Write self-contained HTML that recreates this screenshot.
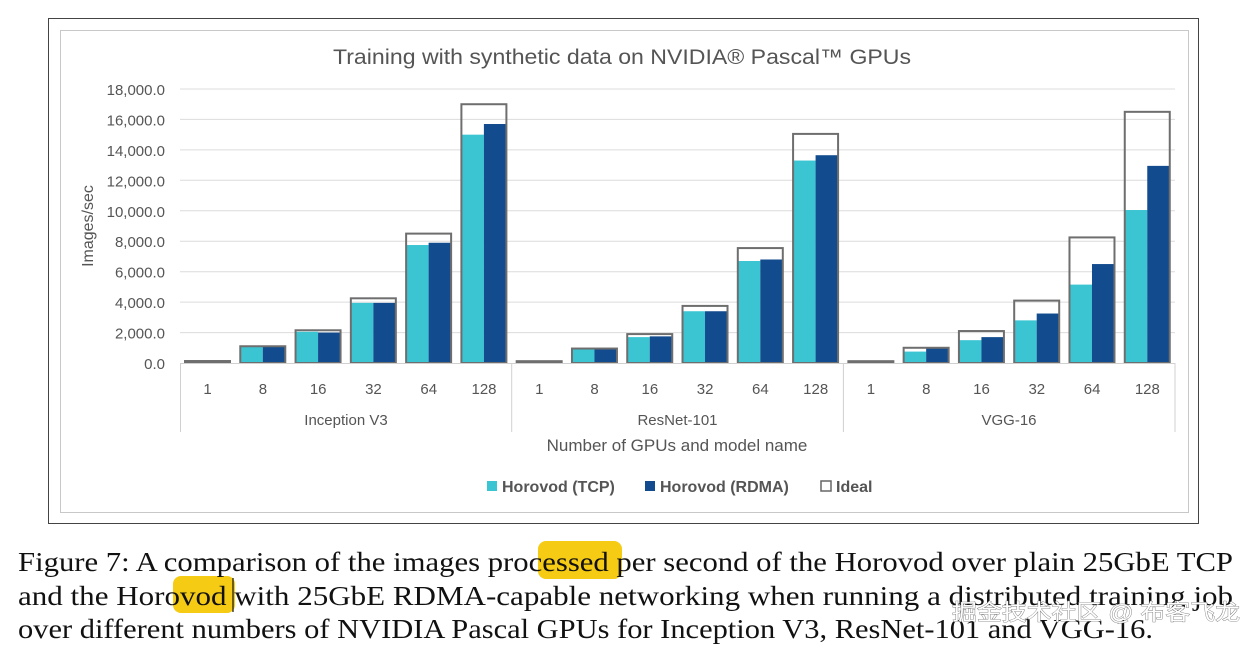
<!DOCTYPE html>
<html><head><meta charset="utf-8"><style>
html,body{margin:0;padding:0;background:#fff;width:1257px;height:648px;overflow:hidden}
svg{display:block}
</style></head><body>
<svg id="s" width="1257" height="648" xmlns="http://www.w3.org/2000/svg" font-family="Liberation Sans, sans-serif">
<rect x="48.5" y="18.5" width="1150" height="505" fill="#fff" stroke="#444" stroke-width="1"/>
<rect x="60.5" y="30.5" width="1128" height="482" fill="#fff" stroke="#c8c8c8" stroke-width="1"/>
<text x="622" y="64" font-size="21" fill="#555" text-anchor="middle" textLength="578" lengthAdjust="spacingAndGlyphs">Training with synthetic data on NVIDIA® Pascal™ GPUs</text>
<g stroke="#dcdcdc" stroke-width="1">
<line x1="180" x2="1175" y1="332.6" y2="332.6"/><line x1="180" x2="1175" y1="302.1" y2="302.1"/>
<line x1="180" x2="1175" y1="271.7" y2="271.7"/><line x1="180" x2="1175" y1="241.2" y2="241.2"/>
<line x1="180" x2="1175" y1="210.8" y2="210.8"/><line x1="180" x2="1175" y1="180.3" y2="180.3"/>
<line x1="180" x2="1175" y1="149.9" y2="149.9"/><line x1="180" x2="1175" y1="119.4" y2="119.4"/>
<line x1="180" x2="1175" y1="89" y2="89"/>
</g>
<g font-size="15" fill="#555" text-anchor="end">
<text x="165" y="369">0.0</text><text x="165" y="338.6">2,000.0</text><text x="165" y="308.1">4,000.0</text>
<text x="165" y="277.7">6,000.0</text><text x="165" y="247.2">8,000.0</text><text x="165" y="216.8">10,000.0</text>
<text x="165" y="186.3">12,000.0</text><text x="165" y="155.9">14,000.0</text><text x="165" y="125.4">16,000.0</text>
<text x="165" y="95">18,000.0</text>
</g>
<text transform="translate(93,226) rotate(-90)" font-size="16" fill="#555" text-anchor="middle">Images/sec</text>
<g id="bars"></g>
<line x1="180" x2="1175" y1="363.5" y2="363.5" stroke="#d0d0d0"/>
<g stroke="#d0d0d0"><line x1="180.5" x2="180.5" y1="363" y2="432"/><line x1="511.7" x2="511.7" y1="363" y2="432"/><line x1="843.4" x2="843.4" y1="363" y2="432"/><line x1="1175" x2="1175" y1="363" y2="432"/></g>
<g id="xl" font-size="15" fill="#555" text-anchor="middle"></g>
<g font-size="15" fill="#555" text-anchor="middle">
<text x="346" y="425">Inception V3</text><text x="677.5" y="425">ResNet-101</text><text x="1009" y="425">VGG-16</text>
</g>
<text x="677" y="451" font-size="17" fill="#555" text-anchor="middle">Number of GPUs and model name</text>
<g font-size="16" font-weight="bold" fill="#555">
<rect x="487" y="481" width="10" height="10" fill="#3bc4d2"/><text x="502" y="492">Horovod (TCP)</text>
<rect x="645" y="481" width="10" height="10" fill="#124b8e"/><text x="660" y="492">Horovod (RDMA)</text>
<rect x="821" y="481" width="10" height="10" fill="#fff" stroke="#666" stroke-width="1.5"/><text x="836" y="492">Ideal</text>
</g>
<rect x="538" y="541" width="84" height="38" rx="8" fill="#f5cb14"/>
<rect x="173" y="576" width="62" height="37" rx="8" fill="#f5cb14"/>
<line x1="233" y1="578" x2="233" y2="612" stroke="#111" stroke-width="1.2"/>
<g font-family="Liberation Serif, serif" font-size="27" fill="#111">
<text x="18" y="571" textLength="1215" lengthAdjust="spacingAndGlyphs">Figure 7: A comparison of the images processed per second of the Horovod over plain 25GbE TCP</text>
<text x="18" y="605" textLength="1215" lengthAdjust="spacingAndGlyphs">and the Horovod with 25GbE RDMA-capable networking when running a distributed training job</text>
<text x="18" y="638" textLength="1135" lengthAdjust="spacingAndGlyphs">over different numbers of NVIDIA Pascal GPUs for Inception V3, ResNet-101 and VGG-16.</text>
</g>
<text x="952" y="620" font-family="Liberation Sans, Noto Sans CJK SC, sans-serif" font-size="22" fill="#fff" stroke="#777" stroke-width="0.8" paint-order="stroke" textLength="288" lengthAdjust="spacingAndGlyphs">掘金技术社区 @ 布客飞龙</text>
</svg>
<script>
var k=274/18000,base=363;
var ideal=[130,1100,2150,4250,8500,17000,120,950,1900,3750,7550,15050,120,1000,2100,4100,8250,16500];
var tcp=[130,1050,2050,3950,7750,15000,120,900,1700,3400,6700,13300,120,750,1500,2800,5150,10050];
var rdma=[130,1080,2000,3950,7900,15700,120,900,1750,3400,6800,13650,120,1000,1700,3250,6500,12950];
var lab=["1","8","16","32","64","128"];
var g=document.getElementById("bars"),xl=document.getElementById("xl"),h="",t="";
for(var i=0;i<18;i++){
 var l=180+i*55.28,x=l+5;
 var ht=tcp[i]*k,hr=rdma[i]*k,hi=ideal[i]*k;
 h+='<rect x="'+x+'" y="'+(base-ht)+'" width="22.5" height="'+ht+'" fill="#3bc4d2"/>';
 h+='<rect x="'+(x+22.5)+'" y="'+(base-hr)+'" width="22.5" height="'+hr+'" fill="#124b8e"/>';
 h+='<rect x="'+x+'" y="'+(base-hi)+'" width="45" height="'+hi+'" fill="none" stroke="#6e6e6e" stroke-width="2"/>';
 t+='<text x="'+(l+27.6)+'" y="394">'+lab[i%6]+'</text>';
}
g.innerHTML=h;xl.innerHTML=t;
</script>
</body></html>
